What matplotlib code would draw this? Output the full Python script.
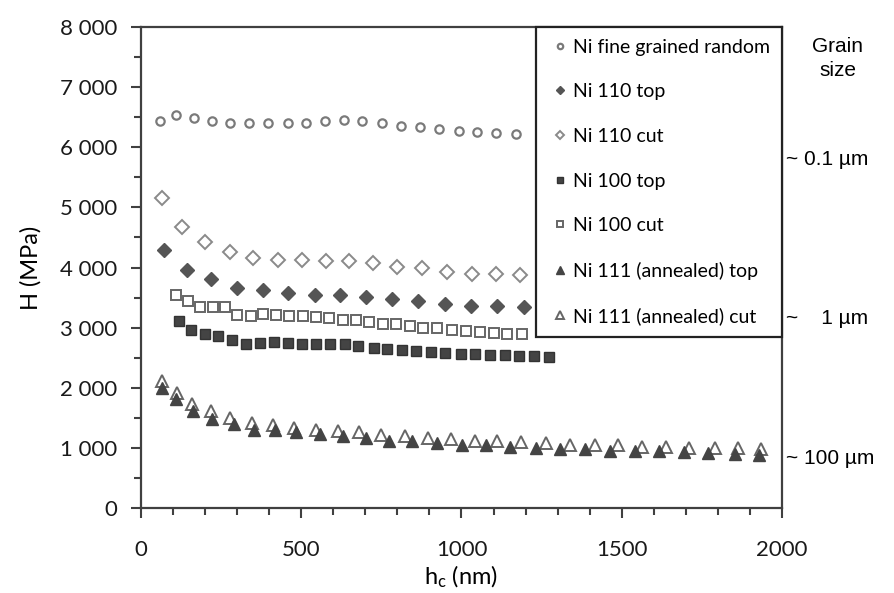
import matplotlib
matplotlib.use("Agg")
import matplotlib.pyplot as plt
from matplotlib.ticker import MultipleLocator, FuncFormatter
import matplotlib.transforms as mtransforms

plt.rcParams['font.family'] = ['Lato', 'DejaVu Sans']
plt.rcParams['mathtext.fontset'] = 'custom'
plt.rcParams['mathtext.rm'] = 'Lato'
plt.rcParams['mathtext.it'] = 'Lato'

# hc (nm) and H (MPa)
fine_x = [59, 109, 164, 221, 279, 338, 397, 458, 516, 574, 634, 691, 752, 810, 870, 929, 991, 1048, 1108, 1169]
fine_H = [6440, 6530, 6480, 6440, 6400, 6400, 6410, 6400, 6410, 6430, 6460, 6430, 6400, 6360, 6340, 6300, 6270, 6255, 6240, 6225]

n110top_x = [72, 145, 219, 299, 380, 459, 542, 621, 702, 784, 865, 947, 1030, 1112, 1195]
n110top_H = [4290, 3955, 3810, 3660, 3620, 3570, 3550, 3550, 3510, 3475, 3440, 3400, 3365, 3355, 3335]

n110cut_x = [65, 129, 201, 277, 351, 426, 501, 576, 650, 724, 800, 877, 955, 1032, 1107, 1181]
n110cut_H = [5150, 4670, 4430, 4260, 4150, 4130, 4120, 4105, 4105, 4070, 4010, 3985, 3930, 3890, 3890, 3870]

n100top_x = [119, 157, 200, 239, 285, 328, 372, 415, 458, 502, 547, 590, 635, 677, 727, 769, 813, 858,
             904, 950, 997, 1042, 1090, 1135, 1180, 1226, 1273]
n100top_H = [3110, 2955, 2900, 2860, 2790, 2720, 2745, 2755, 2745, 2735, 2720, 2720, 2720, 2700, 2665, 2645,
             2635, 2610, 2600, 2585, 2565, 2555, 2545, 2540, 2525, 2520, 2510]

n100cut_x = [108, 148, 184, 225, 262, 301, 343, 382, 421, 462, 504, 545, 588, 629, 671, 712, 755, 797,
             840, 881, 925, 970, 1014, 1057, 1100, 1143, 1189]
n100cut_H = [3545, 3445, 3345, 3345, 3335, 3215, 3190, 3220, 3210, 3190, 3190, 3175, 3155, 3135, 3120, 3100,
             3065, 3055, 3035, 3000, 2990, 2965, 2945, 2925, 2910, 2900, 2890]

n111top_x = [67, 110, 163, 222, 289, 353, 418, 485, 557, 629, 702, 774, 846, 924, 1001, 1075, 1151, 1233,
             1307, 1385, 1462, 1540, 1615, 1693, 1770, 1852, 1928]
n111top_H = [2000, 1815, 1610, 1485, 1390, 1305, 1290, 1260, 1235, 1190, 1160, 1120, 1110, 1075, 1055, 1050,
             1020, 1000, 985, 975, 955, 955, 945, 925, 920, 900, 880]

n111cut_x = [67, 111, 160, 217, 279, 346, 413, 477, 547, 614, 681, 750, 824, 896, 968, 1042, 1112, 1187,
             1264, 1338, 1416, 1488, 1563, 1639, 1711, 1790, 1862, 1935]
n111cut_H = [2110, 1915, 1735, 1610, 1500, 1415, 1385, 1325, 1290, 1275, 1260, 1220, 1190, 1165, 1140, 1120,
             1110, 1095, 1075, 1055, 1055, 1040, 1020, 1010, 1000, 1000, 995, 985]

grain_labels = ["~ 0.1 µm", "~    1 µm", "~ 100 µm"]
grain_H = [5790, 3155, 820]

fig = plt.figure(figsize=(8.94, 5.93), dpi=100)
ax = fig.add_axes([141 / 894, 1 - 508 / 593, 641 / 894, 481 / 593])

axc = '#404040'
ax.plot(fine_x, fine_H, 'o', ms=6, mfc='white', mec='#7a7a7a', mew=1.6, label='Ni fine grained random')
ax.plot(n110top_x, n110top_H, 'D', ms=7, mfc='#555555', mec='#555555', label='Ni 110 top')
ax.plot(n110cut_x, n110cut_H, 'D', ms=7, mfc='white', mec='#8a8a8a', mew=1.4, label='Ni 110 cut')
ax.plot(n100top_x, n100top_H, 's', ms=6.5, mfc='#444444', mec='#333333', label='Ni 100 top')
ax.plot(n100cut_x, n100cut_H, 's', ms=6.5, mfc='white', mec='#666666', mew=1.4, label='Ni 100 cut')
ax.plot(n111top_x, n111top_H, '^', ms=8.5, mfc='#444444', mec='#444444', zorder=4, label='Ni 111 (annealed) top')
ax.plot(n111cut_x, n111cut_H, '^', ms=8.5, mfc='white', mec='#666666', mew=1.4, zorder=3,
        label='Ni 111 (annealed) cut')

ax.set_xlim(0, 2000)
ax.set_ylim(0, 8000)
ax.xaxis.set_major_locator(MultipleLocator(500))
ax.xaxis.set_minor_locator(MultipleLocator(100))
ax.yaxis.set_major_locator(MultipleLocator(1000))
ax.yaxis.set_minor_locator(MultipleLocator(500))
ax.yaxis.set_major_formatter(FuncFormatter(lambda v, p: f"{int(v):,}".replace(",", " ")))

for s in ax.spines.values():
    s.set_color(axc)
    s.set_linewidth(1.6)
ax.tick_params(which='both', direction='out', color=axc, width=1.5, labelsize=16, labelcolor='#1a1a1a')
ax.tick_params(which='major', length=7, pad=10)
ax.tick_params(which='minor', length=5)
ax.tick_params(axis='x', which='major', pad=16)
ax.tick_params(top=False, right=False, which='both')

ax.set_xlabel(r"h$_\mathrm{c}$ (nm)", fontsize=17, labelpad=3)
ax.set_ylabel("H (MPa)", fontsize=17, labelpad=13)

leg = ax.legend(loc='upper right', bbox_to_anchor=(1, 1), borderaxespad=0, fontsize=14,
                fancybox=False, edgecolor='#222222', framealpha=1, labelspacing=1.42,
                handletextpad=0.1, handlelength=1.2, markerscale=0.65, borderpad=0.6)
leg.get_frame().set_linewidth(1.6)

# grain size notes on the right
trans = mtransforms.blended_transform_factory(ax.transAxes, ax.transData)
ax.text(1.087, 7480, "Grain\nsize", transform=trans, ha='center', va='center', ma='center',
        fontsize=15, family='Liberation Sans', linespacing=1.35)
for lab, h in zip(grain_labels, grain_H):
    ax.text(1.006, h, lab, transform=trans, ha='left', va='center', fontsize=15, family='Liberation Sans')

fig.savefig("out.png", dpi=100)
